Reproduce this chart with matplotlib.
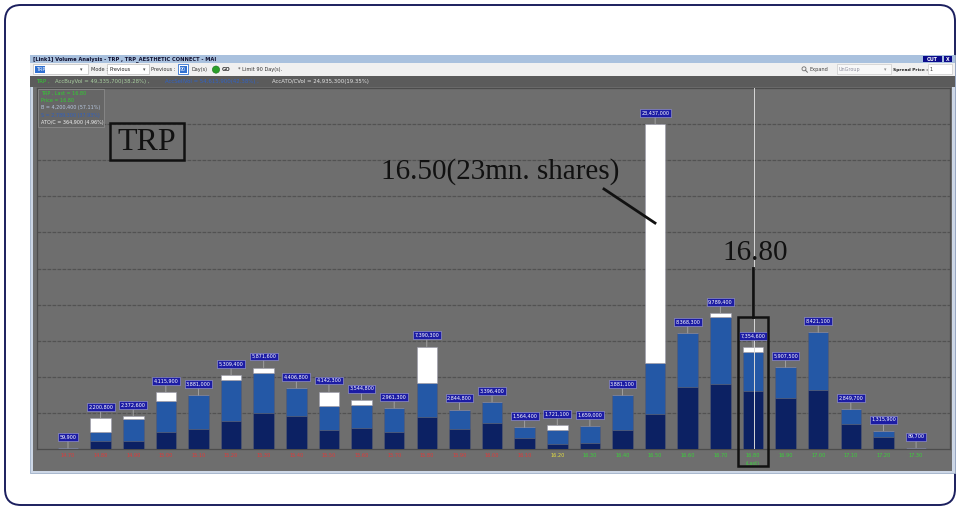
import numpy as np
import matplotlib
matplotlib.use('Agg')
import matplotlib.pyplot as plt
from matplotlib.patches import Rectangle, FancyBboxPatch, Circle

# ---------------- data ----------------
prices = ["14.70", "14.80", "14.90", "15.00", "15.10", "15.20", "15.30", "15.40", "15.50",
          "15.60", "15.70", "15.80", "15.90", "16.00", "16.10", "16.20", "16.30", "16.40",
          "16.50", "16.60", "16.70", "16.80", "16.90", "17.00", "17.10", "17.20", "17.30"]
buy_vol = [0, 600000, 580000, 1220000, 1420000, 2040000, 2610000, 2350000, 1370000,
           1510000, 1240000, 2280000, 1440000, 1850000, 810000, 360000, 410000, 1370000,
           2520000, 4440000, 4700000, 4200400, 3650000, 4270000, 1780000, 860000, 89700]
sell_vol = [59900, 650000, 1550000, 2230000, 2461000, 2940000, 2880000, 2056800, 1720000,
            1630000, 1721300, 2490000, 1404800, 1546400, 754400, 990000, 1249000, 2511100,
            3670000, 3928300, 4820000, 2789300, 2257500, 4151100, 1069700, 455900, 0]
atoc_vol = [0, 950800, 242600, 665900, 0, 329400, 381600, 0, 1052300,
            404800, 0, 2620300, 0, 0, 0, 371100, 0, 0,
            17247000, 0, 269400, 364900, 0, 0, 0, 0, 0]
ref_price = "16.20"
last_price = "16.80"

summary_texts = ["TRP , ", "AccBuyVol = 49,335,700(38.28%) ,",
                 "AccSellVol = 54,615,900(42.38%) ,", "AccATO/CVol = 24,935,300(19.35%)"]
legend_lines = ["TRP , Last = 16.80", "Price = 16.80", "B = 4,200,400 (57.11%)",
                "S = 2,789,300 (37.93%)", "ATO/C = 364,900 (4.96%)"]

# ---------------- figure ----------------
W, H = 961, 511
fig = plt.figure(figsize=(W / 100, H / 100), dpi=100)
fig.patch.set_facecolor('white')

bg = fig.add_axes([0, 0, 1, 1], zorder=0)
bg.set_xlim(0, W); bg.set_ylim(H, 0); bg.axis('off')

# outer rounded frame
bg.add_patch(FancyBboxPatch((5, 5), 950, 500, boxstyle="round,pad=0,rounding_size=16",
                            fc='white', ec='#1b1f5e', lw=1.4))
# window
bg.add_patch(Rectangle((30, 55), 925, 418, fc='#cdd7e6', ec='#9fb0c8', lw=0.6))
bg.add_patch(Rectangle((30, 55), 925, 8, fc='#a9c1de', ec='none'))
bg.text(33, 59.2, "[Link1] Volume Analysis - TRP , TRP_AESTHETIC CONNECT - MAI", fontsize=3.7,
        fontweight='bold', va='center', ha='left', color='#101030')
bg.add_patch(Rectangle((923, 56), 19, 6.2, fc='#0b0b8c', ec='none'))
bg.text(932.5, 59.1, "OUT", fontsize=3.4, color='white', fontweight='bold', ha='center', va='center')
bg.add_patch(Rectangle((944, 56), 8, 6.2, fc='#0b0b8c', ec='none'))
bg.text(948, 59.1, "X", fontsize=3.4, color='white', fontweight='bold', ha='center', va='center')

# toolbar
bg.add_patch(Rectangle((30, 63), 925, 13, fc='#f0f0f0', ec='none'))
tb_y = 69.6
bg.add_patch(Rectangle((33, 64.5), 55, 10, fc='white', ec='#b0b0b0', lw=0.4))
bg.add_patch(Rectangle((35, 66), 10, 7, fc='#3070d0', ec='none'))
bg.text(36, tb_y, "TRP", fontsize=3.5, color='white', va='center')
bg.text(80, tb_y, "▾", fontsize=3.5, color='#505050', va='center')
bg.text(91, tb_y, "Mode :", fontsize=3.6, color='#303030', va='center')
bg.add_patch(Rectangle((107, 64.5), 42, 10, fc='white', ec='#b0b0b0', lw=0.4))
bg.text(110, tb_y, "Previous", fontsize=3.6, color='#202020', va='center')
bg.text(143, tb_y, "▾", fontsize=3.5, color='#505050', va='center')
bg.text(151, tb_y, "Previous :", fontsize=3.6, color='#303030', va='center')
bg.add_patch(Rectangle((178, 64.5), 10, 10, fc='white', ec='#3070d0', lw=0.6))
bg.add_patch(Rectangle((179.5, 66), 7, 7, fc='#3070d0', ec='none'))
bg.text(180, tb_y, "90", fontsize=3.4, color='white', va='center')
bg.text(191, tb_y, "Day(s)", fontsize=3.6, color='#303030', va='center')
bg.add_patch(Circle((216, tb_y), 3.6, fc='#2aa02a', ec='#1a701a', lw=0.4))
bg.text(221.5, tb_y, "GO", fontsize=3.8, color='#303030', fontweight='bold', va='center')
bg.text(238, tb_y, "* Limit 90 Day(s).", fontsize=3.6, color='#303030', va='center')
# magnifier icon (drawn shape)
bg.add_patch(Circle((804, tb_y - 0.8), 2.0, fc='none', ec='#707070', lw=0.6))
bg.plot([805.4, 807.4], [tb_y + 0.6, tb_y + 2.6], color='#707070', lw=0.7)
bg.text(810, tb_y, "Expand", fontsize=3.6, color='#404040', va='center')
bg.add_patch(Rectangle((837, 64.5), 54, 10, fc='#f8f8f8', ec='#c0c0c0', lw=0.4))
bg.text(839, tb_y, "UnGroup", fontsize=3.5, color='#9090a0', va='center')
bg.text(884, tb_y, "▾", fontsize=3.5, color='#909090', va='center')
bg.text(893, tb_y, "Spread Price :", fontsize=3.2, color='#202020', fontweight='bold', va='center')
bg.add_patch(Rectangle((928, 64.5), 24, 10, fc='white', ec='#c0c0c0', lw=0.4))
bg.text(930, tb_y, "1", fontsize=3.6, color='#303030', va='center')

# summary bar
bg.add_patch(Rectangle((30, 76), 925, 11, fc='#5b5b5b', ec='none'))
sum_colors = ['#32d032', '#a9cfa0', '#2f62c8', '#e6e6e6']
sum_x = [36, 55, 165, 272]
for txt, col, sx in zip(summary_texts, sum_colors, sum_x):
    bg.text(sx, 81.6, txt, fontsize=3.9, color=col, va='center', ha='left')
# body
bg.add_patch(Rectangle((33, 87), 919, 384, fc='#6e6e6e', ec='none'))

# ---------------- main chart ----------------
L, R, T, B = 37, 950, 88, 449
ax = fig.add_axes([L / W, 1 - B / H, (R - L) / W, (B - T) / H], zorder=1)
ax.set_facecolor('#6e6e6e')

buy = np.array(buy_vol, float)
sell = np.array(sell_vol, float)
atoc = np.array(atoc_vol, float)
total = buy + sell + atoc
x = np.arange(len(prices))
ymax = total.max() / 0.9

bw = 0.63
ec = '#555a70'
ax.bar(x, buy, width=bw, color='#0c2163', edgecolor=ec, lw=0.4, zorder=3)
ax.bar(x, sell, width=bw, bottom=buy, color='#2458a6', edgecolor=ec, lw=0.4, zorder=3)
ax.bar(x, atoc, width=bw, bottom=buy + sell, color='#ffffff', edgecolor='#9a9aaa', lw=0.4, zorder=3)

for i, v in enumerate(total):
    ax.annotate(f"{int(round(v)):,}", xy=(i, v), xytext=(0, 8), textcoords='offset points',
                ha='center', va='center', fontsize=3.5, color='white', zorder=5,
                bbox=dict(boxstyle='square,pad=0.3', fc='#1c1ca4', ec='#a0a0d8', lw=0.4),
                arrowprops=dict(arrowstyle='-', color='#a8a8a8', lw=0.6, shrinkA=0, shrinkB=0))

ax.set_xlim(-0.95, len(prices) - 1 + 1.04)
ax.set_ylim(0, ymax)
ax.set_yticks(np.arange(1, 10) * ymax / 10)
ax.yaxis.grid(True, color='#525252', lw=0.9, ls=(0, (3, 1)), zorder=0)
ax.tick_params(axis='y', length=0, labelleft=False)
ax.set_xticks(x)
ref_i = prices.index(ref_price)
xt_labels = [p + ("\n(Last)" if p == last_price else "") for p in prices]
ax.set_xticklabels(xt_labels, fontsize=3.6, linespacing=1.6)
for i, lab in enumerate(ax.get_xticklabels()):
    lab.set_color('#e03a3a' if i < ref_i else ('#e6e040' if i == ref_i else '#3ad23a'))
    lab.set_va('top')
ax.tick_params(axis='x', length=0, pad=3)
for s in ax.spines.values():
    s.set_color('#4c4c4c'); s.set_linewidth(0.9)

# cursor line at last price
li = prices.index(last_price)
ax.axvline(li + 0.03, color='#d8d8d8', lw=0.7, zorder=4)

# ---------------- overlay ----------------
ov = fig.add_axes([0, 0, 1, 1], zorder=3)
ov.set_xlim(0, W); ov.set_ylim(H, 0); ov.axis('off'); ov.patch.set_alpha(0)

# info box
ov.add_patch(Rectangle((38, 89), 66, 38, fc='#666666', ec='#8a8a8a', lw=0.6))
leg_cols = ['#30d030', '#30d030', '#b8c8e0', '#3060c0', '#f0f0f0']
for k, (txt, col) in enumerate(zip(legend_lines, leg_cols)):
    ov.text(41, 93.5 + k * 7.2, txt, fontsize=3.5, color=col, va='center', ha='left')

serif = ['Liberation Serif', 'DejaVu Serif']
ov.add_patch(Rectangle((110, 123), 74, 37, fc='none', ec='#111111', lw=1.8))
ov.text(147, 142.5, "TRP", fontsize=23, family=serif, color='#111111', ha='center', va='center')
ov.text(500, 172, "16.50(23mn. shares)", fontsize=21, family=serif, color='#111111',
        ha='center', va='center')
ov.plot([604, 655], [189, 223], color='#111111', lw=2)
ov.text(755, 253, "16.80", fontsize=21, family=serif, color='#111111', ha='center', va='center')
ov.plot([753, 753], [268, 317], color='#111111', lw=2)
ov.add_patch(Rectangle((738, 317), 30, 149, fc='none', ec='#111111', lw=1.8))

fig.savefig('out.png', dpi=100)
